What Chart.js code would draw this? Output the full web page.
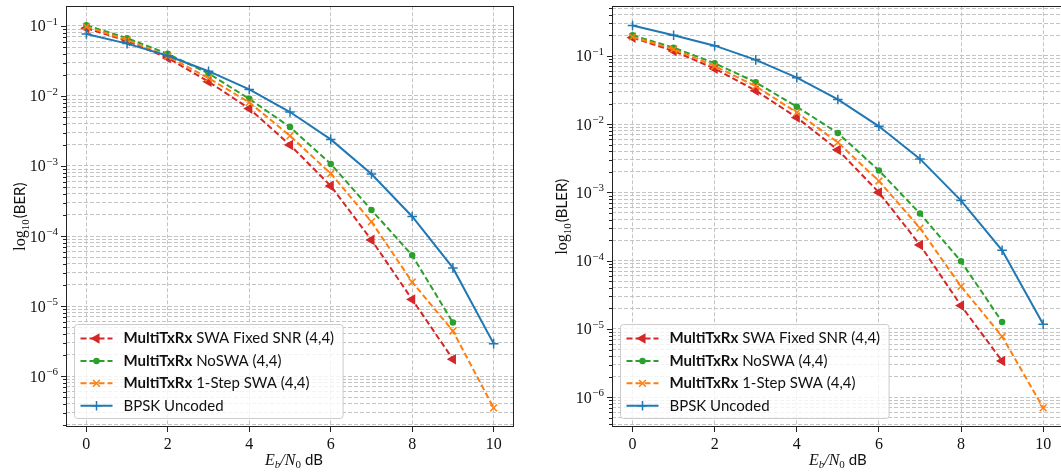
<!DOCTYPE html>
<html>
<head>
<meta charset="utf-8">
<script src="https://cdn.jsdelivr.net/npm/chart.js@4.4.1/dist/chart.umd.min.js"></script>
<style>
    html, body { margin: 0; padding: 0; background: #fff; width: 1061px; height: 475px; overflow: hidden; }
    .panel { position: absolute; top: 0; }
    #berPanel { left: 0; }
    #blerPanel { left: 540px; }
    canvas { display: block; }
</style>
</head>
<body>
<div class="panel" id="berPanel"><canvas id="berChart" width="530" height="475"></canvas></div>
<div class="panel" id="blerPanel"><canvas id="blerChart" width="530" height="475"></canvas></div>
<script>
// === DATA ===
const snrDb = [0, 1, 2, 3, 4, 5, 6, 7, 8, 9, 10];
const xTickValues = [0, 2, 4, 6, 8, 10];
const decadeExponents = [-1, -2, -3, -4, -5, -6];
const minorMultipliers = [1, 2, 3, 4, 5, 6, 7, 8, 9];

// left panel (BER)
const berFixedSnr = [0.093, 0.061, 0.035, 0.016, 0.0066, 0.0020, 5.2e-4, 8.8e-5, 1.24e-5, 1.74e-6];
const berNoSwa    = [0.102, 0.067, 0.040, 0.021, 0.0091, 0.0036, 1.07e-3, 2.35e-4, 5.3e-5, 5.8e-6];
const berOneStep  = [0.098, 0.063, 0.037, 0.018, 0.0081, 0.0027, 7.8e-4, 1.6e-4, 2.2e-5, 4.4e-6, 3.5e-7];
const berBpsk     = [0.077, 0.056, 0.0375, 0.0226, 0.0124, 0.0059, 0.0024, 7.7e-4, 1.9e-4, 3.5e-5, 2.9e-6];

// right panel (BLER)
const blerFixedSnr = [0.185, 0.118, 0.065, 0.031, 0.0125, 0.0042, 1.0e-3, 1.7e-4, 2.2e-5, 3.4e-6];
const blerNoSwa    = [0.200, 0.132, 0.078, 0.041, 0.018, 0.0074, 0.0021, 4.9e-4, 9.8e-5, 1.27e-5];
const blerOneStep  = [0.190, 0.125, 0.071, 0.036, 0.0148, 0.0054, 1.47e-3, 3.0e-4, 4.2e-5, 7.8e-6, 7.0e-7];
const blerBpsk     = [0.279, 0.200, 0.141, 0.0875, 0.048, 0.023, 0.0093, 0.0031, 7.6e-4, 1.42e-4, 1.17e-5];

// legend text (bold part + normal part)
const legendBold = ["MultiTxRx", "MultiTxRx", "MultiTxRx", ""];
const legendRest = [" SWA Fixed SNR (4,4)", " NoSWA (4,4)", " 1-Step SWA (4,4)", "BPSK Uncoded"];

// === STYLES ===
const seriesStyles = [
    { color: "#d62728", dash: [6, 3], pointStyle: "triangle", rotation: -90, radius: 4.6 },
    { color: "#2ca02c", dash: [6, 3], pointStyle: "circle", rotation: 0, radius: 2.5 },
    { color: "#ff7f0e", dash: [6, 3], pointStyle: "crossRot", rotation: 0, radius: 4.8 },
    { color: "#1f77b4", dash: [], pointStyle: "cross", rotation: 0, radius: 4.8 }
];
const gridColor = "#c4c4c4";
const textColor = "#111";
const serif = '"Liberation Serif", "DejaVu Serif", serif';
const sans = 'Lato, "DejaVu Sans", sans-serif';
const legendSize = 15;

// draw a run of text pieces with different fonts, centered on (cx, baseline)
function drawPieces(ctx, pieces, cx, baseY) {
    let total = 0;
    pieces.forEach(p => { ctx.font = p.font; p.w = ctx.measureText(p.text).width; total += p.w + (p.gap || 0); });
    let x = cx - total / 2;
    ctx.textAlign = "left";
    ctx.textBaseline = "alphabetic";
    pieces.forEach(p => {
        ctx.font = p.font;
        ctx.fillText(p.text, x, baseY + (p.dy || 0));
        x += p.w + (p.gap || 0);
    });
}

// === AXIS DECOR + LEGEND PLUGIN ===
const axisDecor = {
    id: "axisDecor",
    afterDraw(chart, args, opts) {
        const { ctx, chartArea: a } = chart;
        const ys = chart.scales.y;
        ctx.save();
        ctx.setLineDash([]);

        // frame
        ctx.strokeStyle = "#222";
        ctx.lineWidth = 1;
        ctx.strokeRect(Math.round(a.left) + 0.5, Math.round(a.top) + 0.5,
                       Math.round(a.right - a.left) - 1, Math.round(a.bottom - a.top) - 1);

        // y tick marks (major longer)
        ys.ticks.forEach(t => {
            const py = Math.round(ys.getPixelForValue(t.value)) + 0.5;
            const len = t.major ? 5 : 3;
            ctx.beginPath();
            ctx.moveTo(Math.round(a.left), py);
            ctx.lineTo(Math.round(a.left) - len, py);
            ctx.stroke();
        });

        // y tick labels 10^-n
        ctx.fillStyle = textColor;
        decadeExponents.forEach(e => {
            const v = Math.pow(10, e);
            if (v < ys.min || v > ys.max) return;
            const py = ys.getPixelForValue(v);
            const sup = "\u2212" + Math.abs(e);
            ctx.font = "11px " + serif;
            const wSup = ctx.measureText(sup).width;
            const xEnd = a.left - 8;
            ctx.textAlign = "left";
            ctx.textBaseline = "alphabetic";
            ctx.fillText(sup, xEnd - wSup, py - 1);
            ctx.font = "16px " + serif;
            ctx.textAlign = "right";
            ctx.fillText("10", xEnd - wSup - 0.5, py + 5.5);
        });

        // x axis title: E_b/N_0 dB
        drawPieces(ctx, [
            { text: "E", font: "italic 16px " + serif },
            { text: "b", font: "italic 11px " + serif, dy: 3 },
            { text: "/N", font: "italic 16px " + serif },
            { text: "0", font: "11px " + serif, dy: 3, gap: 4 },
            { text: "dB", font: "15px " + sans }
        ], (a.left + a.right) / 2 + opts.xTitleShift, 465);

        // y axis title: log_10(BER)
        ctx.save();
        ctx.translate(opts.yTitleX, (a.top + a.bottom) / 2);
        ctx.rotate(-Math.PI / 2);
        drawPieces(ctx, [
            { text: "log", font: "16px " + serif },
            { text: "10", font: "11px " + serif, dy: 3.5, gap: 1 },
            { text: "(" + opts.yTitle + ")", font: "15px " + sans }
        ], 0, 0);
        ctx.restore();

        // legend
        const rowH = 22.4;
        const textX = 49;
        let maxW = 0;
        legendBold.forEach((b, i) => {
            ctx.font = "bold " + legendSize + "px " + sans;
            let w = ctx.measureText(b).width;
            ctx.font = legendSize + "px " + sans;
            w += ctx.measureText(legendRest[i]).width;
            maxW = Math.max(maxW, w);
        });
        const lw = textX + maxW + 9;
        const lh = 94;
        const lx = Math.round(a.left) + 8.5;
        const ly = Math.round(a.bottom) - 8.5 - lh;
        ctx.beginPath();
        ctx.roundRect(lx, ly, lw, lh, 3);
        ctx.fillStyle = "rgba(255,255,255,0.8)";
        ctx.fill();
        ctx.strokeStyle = "#cccccc";
        ctx.lineWidth = 1;
        ctx.stroke();

        seriesStyles.forEach((s, i) => {
            const ry = ly + 14 + i * rowH;
            ctx.strokeStyle = s.color;
            ctx.fillStyle = s.color;
            ctx.lineWidth = 2;
            ctx.setLineDash(s.dash);
            ctx.beginPath();
            ctx.moveTo(lx + 6, ry);
            ctx.lineTo(lx + 38, ry);
            ctx.stroke();
            ctx.setLineDash([]);
            ctx.lineWidth = 1.5;
            Chart.helpers.drawPoint(ctx, {
                pointStyle: s.pointStyle, rotation: s.rotation, radius: s.radius, borderWidth: 1.5
            }, lx + 22, ry);

            ctx.fillStyle = textColor;
            ctx.textAlign = "left";
            ctx.textBaseline = "middle";
            let tx = lx + textX;
            if (legendBold[i]) {
                ctx.font = "bold " + legendSize + "px " + sans;
                ctx.fillText(legendBold[i], tx, ry);
                tx += ctx.measureText(legendBold[i]).width;
            }
            ctx.font = legendSize + "px " + sans;
            ctx.fillText(legendRest[i], tx, ry);
        });
        ctx.restore();
    }
};

// MAIN FUNCTION
function makeChart(canvasId, seriesList, yMin, yMax, yTitle, plotLeft, padRight, yTitleX, xTitleShift) {
    const datasets = seriesList.map((values, i) => {
        const s = seriesStyles[i];
        return {
            label: legendBold[i] + legendRest[i],
            data: values.map((v, j) => ({ x: snrDb[j], y: v })),
            borderColor: s.color,
            backgroundColor: s.color,
            borderWidth: 2,
            borderDash: s.dash,
            pointStyle: s.pointStyle,
            pointRotation: s.rotation,
            pointRadius: s.radius,
            pointBorderWidth: 1.5,
            pointBackgroundColor: s.color,
            pointBorderColor: s.color,
            tension: 0,
            order: 3 - i
        };
    });

    return new Chart(document.getElementById(canvasId), {
        type: "line",
        data: { datasets: datasets },
        options: {
            responsive: false,
            animation: false,
            devicePixelRatio: 1,
            layout: { padding: { top: 3, right: padRight, bottom: 0, left: 0 } },
            plugins: {
                legend: { display: false },
                tooltip: { enabled: false },
                axisDecor: { yTitle: yTitle, yTitleX: yTitleX, xTitleShift: xTitleShift }
            },
            scales: {
                x: {
                    type: "linear",
                    min: -0.5,
                    max: 10.5,
                    afterBuildTicks: sc => { sc.ticks = xTickValues.map(v => ({ value: v })); },
                    afterFit: sc => { sc.height = 48; },
                    ticks: { autoSkip: false, maxRotation: 0, padding: 3, color: textColor,
                             font: { family: serif, size: 16 } },
                    grid: { color: gridColor, lineWidth: 1, drawTicks: true, tickLength: 5,
                            tickColor: "#222", tickWidth: 1, tickBorderDash: [] },
                    border: { display: false, dash: [4, 2] }
                },
                y: {
                    type: "logarithmic",
                    min: yMin,
                    max: yMax,
                    afterBuildTicks: sc => {
                        const ticks = [];
                        for (let e = Math.floor(Math.log10(yMin)); e <= Math.ceil(Math.log10(yMax)); e++) {
                            minorMultipliers.forEach(k => {
                                const v = k * Math.pow(10, e);
                                if (v >= yMin && v <= yMax) ticks.push({ value: v, major: k === 1 });
                            });
                        }
                        sc.ticks = ticks;
                    },
                    afterFit: sc => { sc.width = plotLeft; },
                    ticks: { display: false },
                    grid: { color: gridColor, lineWidth: 1, drawTicks: false },
                    border: { display: false, dash: [4, 2] }
                }
            }
        },
        plugins: [axisDecor]
    });
}

makeChart("berChart", [berFixedSnr, berNoSwa, berOneStep, berBpsk], 1.87e-7, 0.191, "BER", 66, 16, 25, 4);
makeChart("blerChart", [blerFixedSnr, blerNoSwa, blerOneStep, blerBpsk], 3.67e-7, 0.532, "BLER", 72, 4, 27, 0);
</script>
</body>
</html>
